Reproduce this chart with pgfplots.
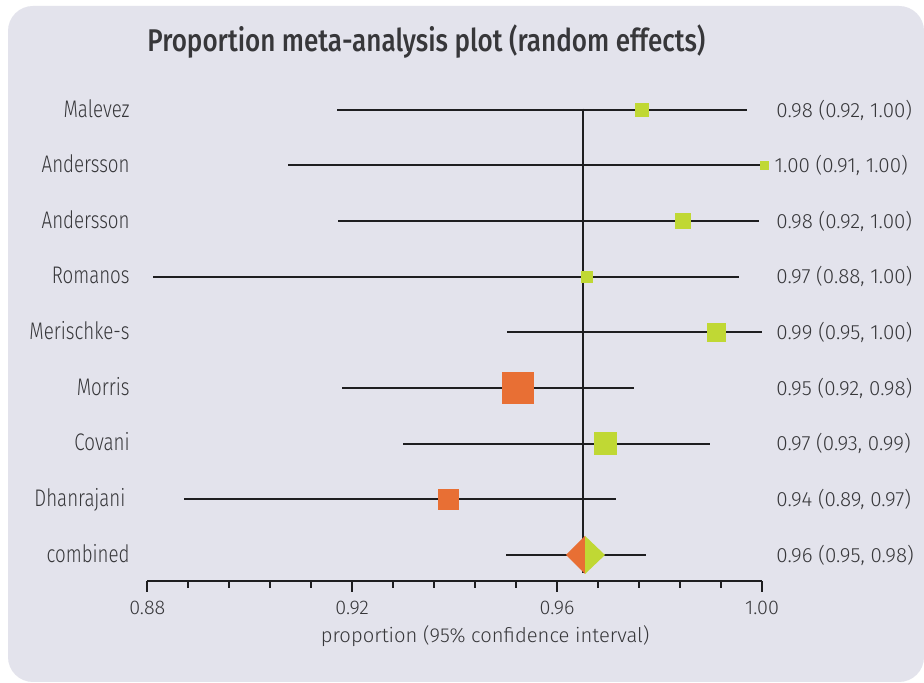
\documentclass[border=0pt]{standalone}
\usepackage{pgfplots}
\pgfplotsset{compat=1.18}
\usepackage{pgfplotstable}
\usepackage{fontspec}
\setmainfont{Fira Sans Light}
\newfontfamily\namefont{Fira Sans Light}[FakeStretch=0.78]
\newfontfamily\titlefont{Fira Sans Medium}[FakeStretch=0.83]

\definecolor{panel}{RGB}{227,227,236}
\definecolor{limec}{RGB}{192,216,52}
\definecolor{orangec}{RGB}{232,111,52}
\definecolor{txt}{RGB}{55,55,58}
\definecolor{linec}{RGB}{30,30,32}

% row, estimate, lower, upper, marker half side (pt), colour class
\pgfplotstableread{
y est     lo      hi      sz    cls
9 0.97658 0.91703 0.99707 3.4   g
8 1.00049 0.90747 0.99948 2.1   g
7 0.98458 0.91723 0.99950 3.6   g
6 0.96584 0.88111 0.99543 2.9   g
5 0.99102 0.95028 0.99994 4.5   g
4 0.95237 0.91807 0.97507 7.9   o
3 0.96945 0.92992 0.98979 5.6   g
2 0.93880 0.88722 0.97144 4.9   o
}\studies

\begin{document}
\begin{tikzpicture}
  \fill[white] (0,0) rectangle (462pt,341.5pt);
  \fill[panel, rounded corners=12.5pt] (4pt,0.5pt) rectangle (462pt,338.5pt);

  \node[anchor=base west, inner sep=0pt, font=\titlefont\fontsize{15.7}{18}\selectfont, text=txt]
    at (73.5pt,315.6pt) {Proportion meta-analysis plot (random effects)};

  \begin{axis}[
      at={(73.65pt,51pt)},
      anchor=south west,
      scale only axis,
      width=307.35pt,
      height=249.5pt,
      xmin=0.88, xmax=1.00,
      ymin=0.532, ymax=9.5,
      axis x line*=bottom,
      axis y line=none,
      xtick={0.88,0.92,0.96,1.00},
      minor x tick num=4,
      tick align=outside,
      major tick length=5.5pt,
      minor tick length=3.5pt,
      axis line style={line width=0.85pt, linec},
      every tick/.style={line width=0.85pt, linec},
      xticklabel style={font=\fontsize{9.9}{11}\selectfont, text=txt, yshift=-0.8pt},
      /pgf/number format/.cd, fixed, fixed zerofill, precision=2,
      assume math mode=true,
      /pgfplots/.cd,
      clip=false,
    ]
    % reference line at the pooled estimate
    \addplot[linec, line width=0.85pt] coordinates {(0.965,9.02) (0.965,0.676)};

    % confidence intervals
    \addplot[only marks, mark=none, linec,
      error bars/.cd, x dir=both, x explicit, error mark=none,
      error bar style={line width=0.95pt, linec}]
      table[x=est, y=y,
        x error minus expr=\thisrow{est}-\thisrow{lo},
        x error plus expr=\thisrow{hi}-\thisrow{est}] {\studies};
    \addplot[linec, line width=0.95pt] coordinates {(0.95003,1) (0.97741,1)};

    % pooled estimate
    \addplot[fill=orangec, draw=none] coordinates {(0.96174,1) (0.96545,1.342) (0.96545,0.658)};
    \addplot[fill=limec, draw=none] coordinates {(0.96545,1.342) (0.96935,1) (0.96545,0.658)};

    % study estimates
    \addplot[scatter, only marks,
      scatter src=explicit symbolic,
      scatter/classes={
        g={mark=square*, limec},
        o={mark=square*, orangec}},
      visualization depends on={\thisrow{sz} \as \msz},
      scatter/@pre marker code/.append style={/tikz/mark size=\msz pt}]
      table[x=est, y=y, meta=cls] {\studies};

    % study names
    \begin{scope}[every node/.style={anchor=mid east, text=txt, font=\namefont\fontsize{12}{14}\selectfont, inner sep=0pt, yshift=-1pt}]
      \node at (axis cs:0.87662,9) {Malevez};
      \node at (axis cs:0.87662,8) {Andersson};
      \node at (axis cs:0.87662,7) {Andersson};
      \node at (axis cs:0.87662,6) {Romanos};
      \node at (axis cs:0.87662,5) {Merischke-s};
      \node at (axis cs:0.87662,4) {Morris};
      \node at (axis cs:0.87662,3) {Covani};
      \node at (axis cs:0.87581,2) {Dhanrajani};
      \node at (axis cs:0.87662,1) {combined};
    \end{scope}

    % estimates with intervals
    \begin{scope}[every node/.style={anchor=mid west, text=txt, font=\fontsize{10.3}{12}\selectfont, inner sep=0pt, yshift=-1pt}]
      \node at (axis cs:1.00273,9) {0.98 (0.92, 1.00)};
      \node at (axis cs:1.00240,8) {1.00 (0.91, 1.00)};
      \node at (axis cs:1.00273,7) {0.98 (0.92, 1.00)};
      \node at (axis cs:1.00273,6) {0.97 (0.88, 1.00)};
      \node at (axis cs:1.00273,5) {0.99 (0.95, 1.00)};
      \node at (axis cs:1.00273,4) {0.95 (0.92, 0.98)};
      \node at (axis cs:1.00273,3) {0.97 (0.93, 0.99)};
      \node at (axis cs:1.00273,2) {0.94 (0.89, 0.97)};
      \node at (axis cs:1.00273,1) {0.96 (0.95, 0.98)};
    \end{scope}
  \end{axis}

  \node[anchor=base west, inner sep=0pt, font=\fontsize{10.1}{12}\selectfont, text=txt]
    at (160.2pt,20.4pt) {proportion (95\% confidence interval)};
\end{tikzpicture}
\end{document}
